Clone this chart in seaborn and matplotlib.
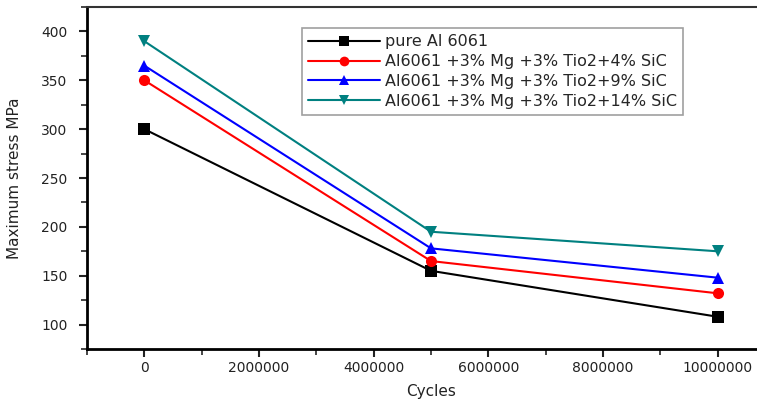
import matplotlib
matplotlib.use("Agg")
import matplotlib.pyplot as plt
import seaborn as sns
import pandas as pd
from matplotlib.ticker import MultipleLocator

cycles = [0, 5000000, 10000000]
series_names = [
    "pure Al 6061",
    "Al6061 +3% Mg +3% Tio2+4% SiC",
    "Al6061 +3% Mg +3% Tio2+9% SiC",
    "Al6061 +3% Mg +3% Tio2+14% SiC",
]
pure = [300, 155, 108]
sic4 = [350, 165, 132]
sic9 = [365, 178, 148]
sic14 = [390, 195, 175]

colors = ["#000000", "#ff0000", "#0000ff", "#008080"]
markers = ["s", "o", "^", "v"]

rows = []
for name, vals in zip(series_names, [pure, sic4, sic9, sic14]):
    for c, v in zip(cycles, vals):
        rows.append({"Cycles": c, "Stress": v, "Series": name})
df = pd.DataFrame(rows)

sns.set_style("white")
plt.rcParams['font.family'] = ['DejaVu Sans']

fig = plt.figure(figsize=(7.57, 4.07), dpi=100)
ax = fig.add_axes([87/757, 58/407, 688/757, 342/407])

sns.lineplot(data=df, x="Cycles", y="Stress", hue="Series", style="Series",
             hue_order=series_names, style_order=series_names,
             palette=colors, markers=markers, dashes=False,
             markersize=8, linewidth=1.5, markeredgewidth=0,
             ax=ax)

ax.set_xlim(-1000000, 11000000)
ax.set_ylim(75, 425)
ax.set_xticks([0, 2000000, 4000000, 6000000, 8000000, 10000000])
ax.set_xticklabels(["0", "2000000", "4000000", "6000000", "8000000", "10000000"])
ax.set_yticks([100, 150, 200, 250, 300, 350, 400])
ax.xaxis.set_minor_locator(MultipleLocator(1000000))
ax.yaxis.set_minor_locator(MultipleLocator(25))
ax.tick_params(axis="both", which="major", direction="out", length=6, width=1.5,
               labelsize=10, colors="#222222", bottom=True, left=True)
ax.tick_params(axis="both", which="minor", direction="out", length=4, width=1.2,
               bottom=True, left=True)
ax.tick_params(axis="y", pad=8)
ax.tick_params(axis="x", pad=3)

for side in ["left", "bottom"]:
    ax.spines[side].set_linewidth(2)
    ax.spines[side].set_color("black")
ax.spines["top"].set_linewidth(1.5)
ax.spines["top"].set_color("#333333")
ax.spines["right"].set_visible(False)

ax.set_xlabel("Cycles", fontsize=11, color="#222222", labelpad=6)
ax.set_ylabel("Maximum stress MPa", fontsize=11, color="#222222", labelpad=14)

leg = ax.legend(loc="upper left", bbox_to_anchor=((302-87)/688, (349-28)/342),
                borderaxespad=0, fontsize=11.5, frameon=True, fancybox=False,
                edgecolor="#888888", handlelength=4.5, handletextpad=0.3,
                borderpad=0.4, labelspacing=0.3)
leg.get_frame().set_linewidth(1.2)
for h in leg.legend_handles:
    h.set_markersize(7)
    h.set_markeredgewidth(0)

fig.savefig("out.png", dpi=100)
